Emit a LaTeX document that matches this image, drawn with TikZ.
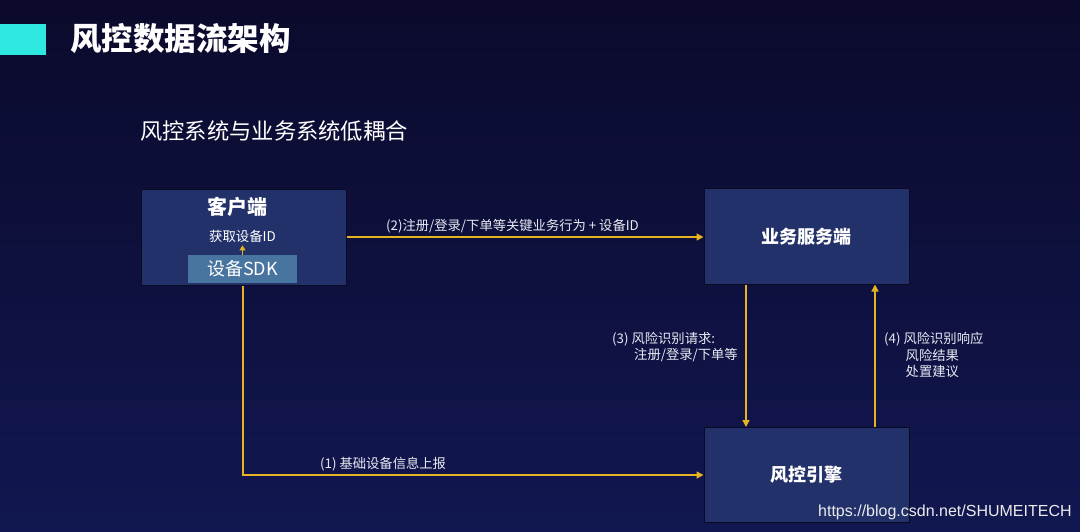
\documentclass[tikz,border=0pt]{standalone}
\usepackage{fontspec}
\setmainfont{Noto Sans CJK SC}
\newfontfamily\cjk{Noto Sans CJK SC}
\newfontfamily\wm{Liberation Sans}
\usetikzlibrary{arrows.meta,calc}
\definecolor{bgtop}{HTML}{0B0A2C}
\definecolor{bgbot}{HTML}{111750}
\definecolor{boxfill}{HTML}{22316A}
\definecolor{boxline}{HTML}{0A0A22}
\definecolor{sdkfill}{HTML}{4874A0}
\definecolor{gold}{HTML}{E6B422}
\definecolor{cyanbar}{HTML}{2EE8E0}
\definecolor{lbl}{HTML}{E8EAF2}
\tikzset{
  bigbox/.style={draw=boxline, line width=1pt, fill=boxfill, minimum width=205pt, minimum height=95pt, inner sep=0pt},
  flow/.style={draw=gold, line width=1.4pt, -{Triangle[width=7pt,length=7pt]}},
  lab/.style={text=lbl, font=\cjk\fontsize{13.3}{16}\selectfont, inner sep=0pt},
  boxtitle/.style={text=white, font=\cjk\bfseries\fontsize{18}{21}\selectfont, inner sep=0pt}
}
\begin{document}
\begin{tikzpicture}[x=1pt,y=-1pt]
\useasboundingbox (0,0) rectangle (1080,532);
\shade[top color=bgtop, bottom color=bgbot] (0,0) rectangle (1080,532);
\fill[cyanbar] (0,24) rectangle (46,55);
\node[anchor=west, text=white, font=\cjk\bfseries\fontsize{31.5}{36}\selectfont, inner sep=0pt] (title) at (70,38.5) {风控数据流架构};
\node[anchor=west, text=white, font=\cjk\fontsize{22.3}{26}\selectfont, inner sep=0pt] (sub) at (140,131) {风控系统与业务系统低耦合};

\node[bigbox] (client) at (243.5,237.5) {};
\node[text=white, font=\cjk\bfseries\fontsize{20}{23}\selectfont, inner sep=0pt] (ctitle) at (237.5,206.5) {客户端};
\node[text=white, font=\cjk\fontsize{13.4}{16}\selectfont, inner sep=0pt] (devid) at (242.5,236) {获取设备ID};
\node[draw=none, fill=sdkfill, minimum width=109pt, minimum height=28pt, inner sep=0pt, text=white, font=\cjk\fontsize{18}{21}\selectfont] (sdk) at (242.5,269) {设备SDK};
\draw[draw=gold, line width=1pt, -{Triangle[width=6pt,length=5pt]}] (sdk.north -| devid.south) -- ($(devid.south)+(0,3)$);

\node[bigbox] (biz) at (806.5,236.5) {};
\node[boxtitle] at (biz.center) {业务服务端};
\node[bigbox] (engine) at (806.5,475) {};
\node[boxtitle] at (engine.center) {风控引擎};

\draw[flow] (client.east |- 0,237) -- (biz.west |- 0,237);
\node[lab, anchor=west] (l2) at (386,226.5) {(2)注册/登录/下单等关键业务行为 + 设备ID};

\draw[flow] (client.south -| 243,0) |- (engine.west);
\node[lab, anchor=west] (l1) at (320,464) {(1) 基础设备信息上报};

\draw[flow] ($(biz.south)+(-60.5,0)$) -- ($(engine.north)+(-60.5,0)$);
\node[lab, anchor=west] (l3a) at (612,339) {(3) 风险识别请求:};
\node[lab, anchor=west] (l3b) at (634,355) {注册/登录/下单等};

\draw[flow] ($(engine.north)+(68.5,0)$) -- ($(biz.south)+(68.5,0)$);
\node[lab, anchor=west] (l4a) at (884,339) {(4) 风险识别响应};
\node[lab, anchor=west] (l4b) at (905.5,355) {风险结果};
\node[lab, anchor=west] (l4c) at (905.5,371) {处置建议};

\node[anchor=west, text=white!85!gray, font=\wm\fontsize{16}{19}\selectfont, inner sep=0pt] (wmk) at (818,512) {https://blog.csdn.net/SHUMEITECH};
\end{tikzpicture}
\end{document}
